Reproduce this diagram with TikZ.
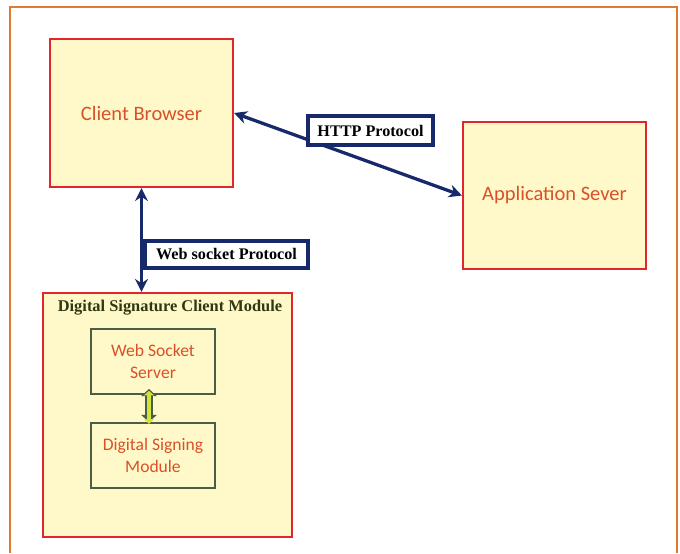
\documentclass[tikz,border=0pt]{standalone}
\usepackage{fontspec}
\usetikzlibrary{arrows.meta}

\newfontfamily\boxfont{Carlito}
\newfontfamily\tagfont{Liberation Serif}

% one pixel of the drawing grid
\newlength\pxu
\setlength\pxu{0.03cm}

\definecolor{boxfill}{HTML}{FFF9C9}
\definecolor{boxred}{HTML}{E2262C}
\definecolor{txtorange}{HTML}{D9502A}
\definecolor{navy}{HTML}{17296B}
\definecolor{innerline}{HTML}{4B5E45}
\definecolor{framecol}{HTML}{E07A2E}
\definecolor{titlecol}{HTML}{2F3812}
\definecolor{linkgreen}{HTML}{D2E43A}

\begin{document}
\begin{tikzpicture}[
    x=0.03cm, y=-0.03cm,
    box/.style={rectangle, draw=boxred, line width=1.9pt, fill=boxfill, align=center, text=txtorange, font=\boxfont\fontsize{17.5}{21}\selectfont},
    inner/.style={rectangle, draw=innerline, line width=1.7pt, fill=boxfill, minimum width=124\pxu, minimum height=65\pxu, align=center, text=txtorange, font=\boxfont\fontsize{15}{19}\selectfont},
    tag/.style={rectangle, draw=navy, line width=2.6pt, fill=white, inner sep=0pt, font=\tagfont\bfseries\fontsize{13.8}{16}\selectfont},
    arrow/.style={{Stealth[length=11pt,width=11pt]}-{Stealth[length=11pt,width=11pt]}, draw=navy, line width=2.8pt}
]

\useasboundingbox (0,0) rectangle (680,553);

% Page frame, open at the bottom
\draw[framecol, line width=0.9pt] (10,553) -- (10,7) -- (677,7) -- (677,553);

% Browser and server
\node[box, minimum width=183\pxu, minimum height=148\pxu] (browser) at (141.5,113) {Client Browser};
\node[box, minimum width=183\pxu, minimum height=147\pxu] (appserver) at (554.5,195.5) {Application Sever};

% Client module with its two parts
\node[box, minimum width=249\pxu, minimum height=244\pxu] (module) at (167.5,415) {};
\node[text=titlecol, font=\tagfont\bfseries\fontsize{14}{16}\selectfont] (moduletitle) at (170,308) {Digital Signature Client Module};
\node[inner] (wsserver) at (153,361.5) {Web Socket\\Server};
\node[inner] (signing) at (153,455.5) {Digital Signing\\Module};

% Protocol links
\draw[arrow] (browser.east) -- (appserver.west);
\draw[arrow] (browser.south) -- (browser.south |- module.north);

\node[tag, minimum width=125\pxu, minimum height=29\pxu] (httptag) at (370.5,130.5) {HTTP Protocol};
\node[tag, minimum width=163\pxu, minimum height=27\pxu] (wstag) at (226.5,254.5) {Web socket Protocol};

% Link between the two parts
\draw[innerline, line width=6pt, {Triangle[length=6pt,width=13pt]}-{Triangle[length=6pt,width=13pt]}]
    ([xshift=-4\pxu,yshift=6\pxu]wsserver.south) -- ([xshift=-4\pxu]signing.north);
\draw[linkgreen, line width=3.6pt, {Triangle[length=4pt,width=8.5pt]}-{Triangle[length=4pt,width=8.5pt]}]
    ([xshift=-4\pxu,yshift=4.2\pxu]wsserver.south) -- ([xshift=-4\pxu,yshift=-1.8\pxu]signing.north);

\end{tikzpicture}
\end{document}
